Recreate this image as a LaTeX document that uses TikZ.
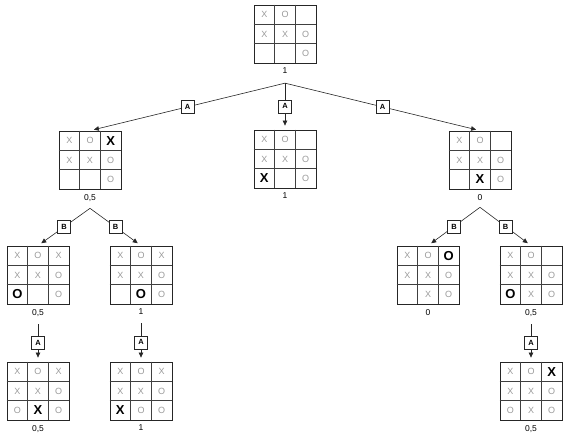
\documentclass[tikz,border=0pt]{standalone}
\usepackage{fontspec}
\setmainfont{Liberation Sans}
\usepackage{xcolor}
\usetikzlibrary{positioning,arrows.meta,calc}
\definecolor{markgray}{HTML}{9A9A9A}

% one board: name, centre, value, nine cells (n = empty)
\newcommand{\board}[4]{%
  \node[brd] (#1) at (#2) {};
  \foreach \m [count=\i from 0] in {#4} {
    \pgfmathtruncatemacro\cc{mod(\i,3)}
    \pgfmathtruncatemacro\rr{int(\i/3)}
    \node at ($(#1)+(\cc*20.667-20.667,\rr*19.333-19.333)$) [mk\m];
  }
  \foreach \k in {-1,1} {
    \draw[grd] ($(#1.north)+(\k*10.333,0)$) -- ($(#1.south)+(\k*10.333,0)$);
    \draw[grd] ($(#1.west)+(0,\k*9.667)$) -- ($(#1.east)+(0,\k*9.667)$);
  }
  \node[val,below=3.5pt of #1] (#1v) {#3};
}

\begin{document}
\begin{tikzpicture}[x=1pt,y=-1pt,
  brd/.style={draw=black!85,line width=0.8pt,minimum width=62pt,minimum height=58pt,inner sep=0pt},
  grd/.style={draw=black!75,line width=0.7pt},
  mkx/.style={node contents=X,text=markgray,font=\fontsize{9}{9}\selectfont},
  mko/.style={node contents=O,text=markgray,font=\fontsize{9}{9}\selectfont},
  mkX/.style={node contents=X,font=\bfseries\fontsize{13}{13}\selectfont},
  mkO/.style={node contents=O,font=\bfseries\fontsize{13}{13}\selectfont},
  mkn/.style={node contents={}},
  val/.style={font=\fontsize{8.5}{9}\selectfont,inner sep=1pt},
  tag/.style={draw,fill=white,font=\bfseries\fontsize{7.5}{7.5}\selectfont,minimum width=13pt,minimum height=13pt,inner sep=1pt},
  edg/.style={-{Triangle[length=5pt,width=4.5pt]},draw=black!85,line width=0.6pt,shorten >=4pt}]

  \useasboundingbox (0,0) rectangle (571,437);

  % root
  \board{T}{285,34}{1}{x,o,n,x,x,o,n,n,o}

  % first move
  \board{L}{90,160}{0,5}{x,o,X,x,x,o,n,n,o}
  \board{M}{285,159}{1}{x,o,n,x,x,o,X,n,o}
  \board{R}{480,160}{0}{x,o,n,x,x,o,n,X,o}
  \coordinate[below=8pt of Tv] (Tj);
  \foreach \dst in {L,M,R}
    \draw[edg] (Tj) -- node[tag]{A} (\dst.north);

  % replies under L
  \board{LL}{38,275}{0,5}{x,o,x,x,x,o,O,n,o}
  \board{LR}{141,275}{1}{x,o,x,x,x,o,n,O,o}
  \coordinate[below=6pt of Lv] (Lj);
  \foreach \dst in {LL,LR}
    \draw[edg] (Lj) -- node[tag]{B} (\dst.north);

  % replies under R
  \board{RL}{428,275}{0}{x,o,O,x,x,o,n,x,o}
  \board{RR}{531,275}{0,5}{x,o,n,x,x,o,O,x,o}
  \coordinate[below=6pt of Rv] (Rj);
  \foreach \dst in {RL,RR}
    \draw[edg] (Rj) -- node[tag]{B} (\dst.north);

  % last moves
  \board{LLA}{38,391}{0,5}{x,o,x,x,x,o,o,X,o}
  \board{LRA}{141,391}{1}{x,o,x,x,x,o,X,o,o}
  \board{RRA}{531,391}{0,5}{x,o,X,x,x,o,o,x,o}
  \foreach \src/\dst in {LL/LLA,LR/LRA,RR/RRA} {
    \coordinate[below=7pt of \src v] (\src j);
    \draw[edg] (\src j) -- node[tag]{A} (\dst.north);
  }
\end{tikzpicture}
\end{document}
